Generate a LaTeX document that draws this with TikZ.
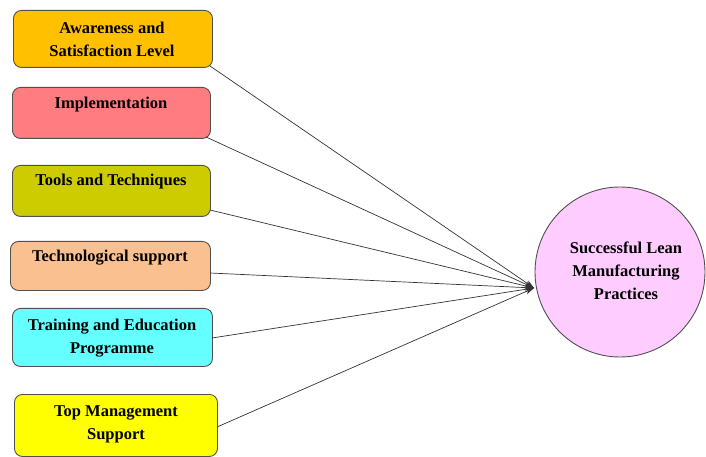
\documentclass[tikz,border=0pt]{standalone}
\usepackage{fontspec}
\setmainfont{Liberation Serif}
\usetikzlibrary{arrows.meta,calc}
\definecolor{cA}{HTML}{FFC000}
\definecolor{cB}{HTML}{FF7C80}
\definecolor{cC}{HTML}{CCCC00}
\definecolor{cD}{HTML}{FAC090}
\definecolor{cE}{HTML}{66FFFF}
\definecolor{cF}{HTML}{FFFF00}
\definecolor{cG}{HTML}{FFCCFF}
\definecolor{edge}{HTML}{505050}
\tikzset{
  box/.style={draw=edge, line width=0.9bp, rounded corners=8bp, anchor=north west, inner sep=0pt},
  lbl/.style={font=\bfseries\fontsize{16.5bp}{23bp}\selectfont, align=center, inner sep=0pt},
  conn/.style={draw=black!80, line width=0.7bp, -{Stealth[length=9bp,width=6bp]}}
}
\begin{document}
\begin{tikzpicture}[x=1bp,y=-1bp]
\useasboundingbox (0,0) rectangle (706,457);
% boxes
\node[box, fill=cA, minimum width=199bp, minimum height=57bp] (b1) at (13,10) {};
\node[box, fill=cB, minimum width=198bp, minimum height=51bp] (b2) at (12,87) {};
\node[box, fill=cC, minimum width=198bp, minimum height=51bp] (b3) at (12,165) {};
\node[box, fill=cD, minimum width=200bp, minimum height=49bp] (b4) at (10,241) {};
\node[box, fill=cE, minimum width=200bp, minimum height=58bp] (b5) at (12,308) {};
\node[box, fill=cF, minimum width=203bp, minimum height=62bp] (b6) at (14,394) {};
% labels
\node[lbl] (t1) at (112,39) {Awareness and\\Satisfaction Level};
\node[lbl] (t2) at (111,105) {Implementation};
\node[lbl] (t3) at (111,182) {Tools and Techniques};
\node[lbl] (t4) at (110,258) {Technological support};
\node[lbl] (t5) at (112,338) {Training and Education\\Programme};
\node[lbl] (t6) at (116,424) {Top Management\\Support};
% circle
\node[draw=edge, line width=0.9bp, fill=cG, circle, minimum size=170bp, inner sep=0pt] (c) at (620,272) {};
\node[lbl] (tc) at (626,271) {Successful Lean\\Manufacturing\\Practices};
\coordinate (tip) at (534,288);
% connectors
\coordinate (s1) at (210,66);
\coordinate (s2) at (206,137);
\coordinate (s3) at (210,210);
\coordinate (s4) at (210,273);
\coordinate (s5) at (212,338);
\coordinate (s6) at (217,427);
\foreach \i in {1,...,6} \draw[conn] (s\i) -- (tip);
\end{tikzpicture}
\end{document}
